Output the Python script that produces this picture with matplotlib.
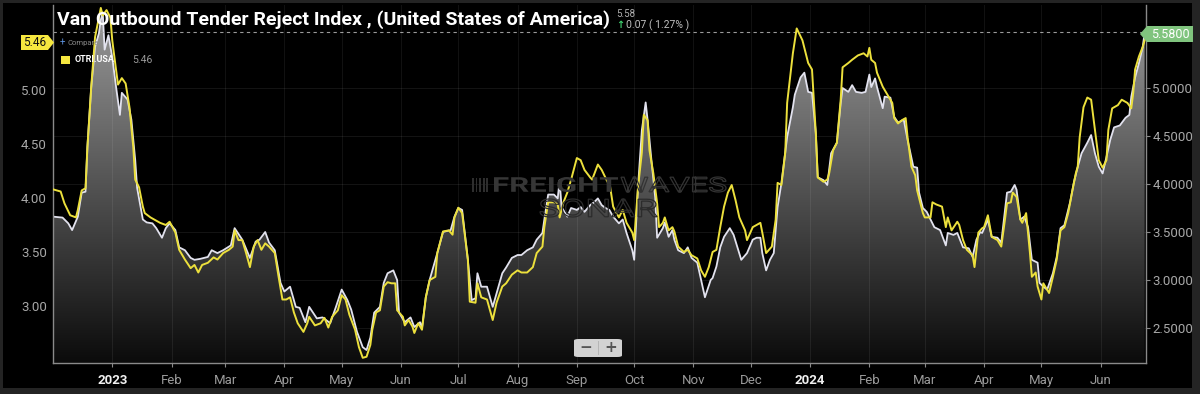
import numpy as np
import pandas as pd
import matplotlib
matplotlib.use('Agg')
import matplotlib.pyplot as plt
import matplotlib.dates as mdates
from matplotlib.patches import Polygon, FancyBboxPatch, Rectangle, PathPatch
from matplotlib.colors import LinearSegmentedColormap
from matplotlib.textpath import TextPath
from matplotlib.font_manager import FontProperties
from matplotlib.transforms import Affine2D, IdentityTransform

plt.rcParams['font.family'] = ['Roboto', 'DejaVu Sans']

# ---------------- data ----------------
start_date = '2022-12-01'
title = 'Van Outbound Tender Reject Index , (United States of America)'
series_label = 'OTRI.USA'
last_votri = 5.58
change_abs = 0.07
change_pct = 1.27
last_otri = 5.46

otri_days = [0, 4, 6, 9, 12, 13, 15, 17, 18, 20, 22, 24, 25, 26, 28, 30, 31, 32, 34, 36, 38, 40, 42, 43, 45, 47, 48,
             51, 53, 56, 59, 61, 64, 66, 69, 72, 74, 76, 78, 81, 84, 86, 89, 92, 94, 95, 97, 99, 101, 103, 105, 107,
             109, 111, 113, 116, 118, 120, 122, 124, 126, 128, 131, 133, 134, 137, 140, 142, 144, 146, 149, 151, 153,
             155, 158, 160, 162, 164, 166, 167, 169, 171, 173, 175, 177, 179, 180, 183, 184, 186, 188, 189, 191, 193,
             195, 197, 200, 201, 204, 207, 209, 210, 212, 214, 217, 218, 221, 222, 224, 227, 230, 232, 235, 237, 240,
             243, 245, 248, 251, 253, 256, 257, 259, 262, 264, 265, 267, 269, 271, 274, 276, 278, 281, 282, 285, 287,
             290, 291, 293, 296, 298, 300, 303, 304, 306, 308, 309, 311, 312, 314, 316, 317, 319, 320, 322, 324, 325,
             327, 330, 332, 334, 337, 339, 341, 343, 345, 347, 349, 351, 353, 355, 357, 359, 362, 363, 366, 368, 370,
             371, 373, 376, 378, 379, 381, 383, 384, 387, 389, 392, 395, 397, 399, 400, 403, 405, 406, 408, 410, 412,
             413, 416, 418, 421, 424, 426, 427, 428, 430, 431, 434, 435, 437, 439, 440, 442, 444, 446, 447, 449, 451,
             452, 455, 456, 459, 460, 462, 465, 467, 468, 470, 473, 474, 476, 478, 481, 482, 484, 486, 487, 489, 491,
             494, 496, 498, 499, 501, 502, 504, 506, 507, 509, 511, 512, 514, 515, 517, 518, 520, 521, 523, 525, 527,
             529, 531, 533, 535, 536, 537, 539, 541, 543, 545, 547, 549, 551, 552, 554, 557, 559, 562, 564, 565, 566,
             568, 570, 571]
otri_values = [4.08, 4.06, 3.95, 3.84, 3.82, 3.89, 4.07, 4.09, 4.47, 5.03, 5.49, 5.67, 5.76, 5.69, 5.74, 5.67, 5.46,
               5.32, 5.05, 5.11, 5.06, 4.84, 4.47, 4.17, 4.10, 3.92, 3.86, 3.82, 3.80, 3.77, 3.75, 3.78, 3.68, 3.52,
               3.43, 3.35, 3.38, 3.31, 3.38, 3.40, 3.45, 3.43, 3.49, 3.52, 3.55, 3.70, 3.61, 3.61, 3.49, 3.36, 3.55,
               3.61, 3.52, 3.58, 3.55, 3.49, 3.27, 3.06, 3.06, 3.08, 2.94, 2.84, 2.76, 2.84, 2.90, 2.82, 2.84, 2.89,
               2.80, 2.90, 2.96, 3.10, 3.06, 2.92, 2.78, 2.62, 2.52, 2.53, 2.64, 2.78, 2.94, 2.96, 3.18, 3.22, 3.21,
               3.21, 2.96, 2.90, 2.82, 2.87, 2.81, 2.75, 2.84, 2.78, 3.08, 3.24, 3.27, 3.49, 3.69, 3.70, 3.66, 3.82,
               3.91, 3.86, 3.43, 3.04, 3.03, 3.21, 3.08, 3.06, 2.87, 3.03, 3.18, 3.21, 3.29, 3.33, 3.31, 3.31, 3.36,
               3.49, 3.55, 3.73, 3.96, 3.96, 3.94, 3.82, 3.96, 4.05, 4.17, 4.37, 4.35, 4.26, 4.19, 4.17, 4.31, 4.26,
               4.15, 4.15, 3.92, 3.82, 3.89, 3.77, 3.68, 3.61, 4.10, 4.42, 4.77, 4.72, 4.44, 4.23, 3.95, 3.73, 3.77,
               3.82, 3.70, 3.73, 3.69, 3.55, 3.50, 3.52, 3.47, 3.44, 3.33, 3.27, 3.36, 3.50, 3.52, 3.73, 3.92, 4.05,
               4.12, 3.98, 3.82, 3.70, 3.61, 3.73, 3.75, 3.77, 3.68, 3.49, 3.55, 3.80, 4.14, 4.12, 4.42, 4.88, 5.34,
               5.57, 5.46, 5.25, 5.19, 4.60, 4.19, 4.15, 4.17, 4.23, 4.44, 4.51, 4.91, 5.21, 5.25, 5.28, 5.32, 5.34,
               5.31, 5.39, 5.28, 5.25, 5.16, 5.03, 5.00, 4.94, 4.88, 4.74, 4.69, 4.72, 4.74, 4.56, 4.29, 4.21, 4.07,
               3.86, 3.82, 3.82, 3.96, 3.94, 3.92, 3.73, 3.82, 3.70, 3.78, 3.75, 3.61, 3.52, 3.47, 3.36, 3.68, 3.72,
               3.73, 3.84, 3.64, 3.61, 3.55, 3.81, 3.95, 3.96, 4.05, 4.01, 3.80, 3.77, 3.86, 3.49, 3.27, 3.31, 3.18,
               3.06, 3.21, 3.15, 3.12, 3.27, 3.43, 3.70, 3.73, 3.86, 4.05, 4.23, 4.29, 4.56, 4.84, 4.93, 4.91, 4.63,
               4.35, 4.28, 4.35, 4.63, 4.83, 4.86, 4.91, 4.88, 4.83, 4.97, 5.19, 5.31, 5.40, 5.46]

votri_days = [0, 5, 8, 10, 13, 15, 17, 18, 20, 22, 24, 25, 26, 27, 29, 31, 33, 35, 36, 39, 41, 43, 44, 47, 49, 52,
              54, 57, 59, 61, 64, 66, 69, 72, 74, 77, 81, 83, 86, 89, 93, 95, 99, 103, 106, 108, 111, 113, 116, 119,
              121, 124, 127, 129, 132, 134, 138, 141, 145, 148, 151, 154, 156, 159, 162, 164, 166, 168, 171, 173, 175,
              178, 180, 181, 184, 187, 189, 192, 193, 195, 197, 201, 204, 208, 210, 212, 214, 217, 219, 221, 222, 224,
              227, 230, 232, 235, 237, 240, 243, 245, 248, 251, 253, 256, 257, 259, 262, 264, 265, 266, 269, 271, 274,
              276, 278, 281, 283, 285, 287, 289, 291, 293, 296, 298, 300, 303, 304, 306, 308, 310, 311, 313, 315, 316,
              319, 320, 322, 324, 325, 327, 330, 332, 334, 337, 339, 341, 344, 345, 347, 349, 351, 354, 356, 358, 360,
              363, 366, 368, 370, 371, 373, 375, 377, 379, 381, 384, 387, 388, 391, 393, 395, 397, 399, 400, 403, 405,
              407, 410, 412, 413, 416, 418, 420, 423, 425, 427, 428, 430, 431, 434, 435, 438, 440, 442, 445, 447, 450,
              452, 453, 455, 457, 459, 461, 464, 467, 468, 471, 473, 476, 479, 481, 483, 485, 486, 489, 491, 494, 496,
              499, 501, 503, 504, 506, 508, 510, 512, 515, 516, 518, 520, 523, 525, 527, 529, 532, 534, 536, 538, 541,
              543, 545, 547, 549, 551, 553, 555, 558, 561, 563, 564, 566, 568, 570, 571]
votri_values = [3.66, 3.65, 3.59, 3.52, 3.66, 3.91, 3.92, 4.39, 5.01, 5.43, 5.57, 5.71, 5.79, 5.40, 5.55, 5.32, 5.01,
                4.72, 4.95, 4.88, 4.67, 4.25, 3.96, 3.63, 3.60, 3.59, 3.54, 3.44, 3.54, 3.59, 3.52, 3.34, 3.31, 3.23,
                3.21, 3.22, 3.24, 3.31, 3.28, 3.31, 3.36, 3.54, 3.42, 3.23, 3.40, 3.42, 3.50, 3.39, 3.31, 2.97, 2.88,
                2.93, 2.72, 2.71, 2.56, 2.72, 2.60, 2.61, 2.55, 2.72, 2.90, 2.79, 2.69, 2.46, 2.30, 2.27, 2.40, 2.66,
                2.72, 2.97, 3.07, 3.10, 3.00, 2.66, 2.56, 2.61, 2.51, 2.56, 2.50, 2.82, 3.00, 3.28, 3.50, 3.52, 3.66,
                3.75, 3.73, 3.21, 2.79, 2.81, 3.07, 2.93, 2.93, 2.72, 2.86, 3.07, 3.13, 3.23, 3.26, 3.26, 3.31, 3.34,
                3.42, 3.49, 3.63, 3.89, 3.89, 3.85, 4.04, 3.76, 3.66, 3.75, 3.73, 3.76, 3.71, 3.78, 3.81, 3.85, 3.78,
                3.75, 3.73, 3.66, 3.59, 3.63, 3.49, 3.31, 3.21, 3.97, 4.56, 4.85, 4.67, 4.25, 3.86, 3.44, 3.54, 3.60,
                3.45, 3.52, 3.42, 3.31, 3.28, 3.34, 3.23, 3.18, 3.00, 2.82, 3.00, 3.02, 3.14, 3.34, 3.45, 3.54, 3.47,
                3.34, 3.21, 3.28, 3.42, 3.44, 3.44, 3.28, 3.10, 3.21, 3.28, 3.76, 4.01, 4.49, 4.80, 4.93, 5.11, 5.16,
                4.96, 4.95, 4.53, 4.07, 4.04, 3.99, 4.32, 4.43, 4.84, 5.00, 4.96, 5.03, 4.96, 4.95, 4.96, 5.14, 5.01,
                5.10, 5.01, 4.79, 4.91, 4.90, 4.70, 4.64, 4.67, 4.46, 4.18, 4.17, 3.91, 3.75, 3.71, 3.63, 3.55, 3.52,
                3.36, 3.49, 3.47, 3.49, 3.34, 3.33, 3.24, 3.42, 3.50, 3.49, 3.63, 3.45, 3.44, 3.39, 3.91, 3.92, 3.99,
                3.94, 3.63, 3.66, 3.55, 3.21, 3.18, 2.97, 2.93, 2.90, 3.07, 3.24, 3.54, 3.57, 3.81, 4.02, 4.18, 4.32,
                4.43, 4.51, 4.32, 4.18, 4.11, 4.28, 4.46, 4.59, 4.61, 4.69, 4.72, 4.91, 5.11, 5.26, 5.43, 5.58]

month_ticks = pd.date_range('2023-01-01', '2024-06-01', freq='MS')
left_ticks = [3.0, 3.5, 4.0, 4.5, 5.0]
right_ticks = [2.5, 3.0, 3.5, 4.0, 4.5, 5.0]

# ---------------- layout helpers ----------------
W, H = 1200, 394
fig = plt.figure(figsize=(12, 3.94), dpi=100, facecolor='#242424')


def fx(px):
    return px / W


def fy(py):
    return 1 - py / H


fig.add_artist(Rectangle((fx(3), fy(388)), fx(1192) - fx(3), fy(3) - fy(388), transform=fig.transFigure,
                         facecolor='black', edgecolor='none', zorder=-5))

ax = fig.add_axes([fx(53), fy(363), fx(1146) - fx(53), fy(5) - fy(363)])
ax2 = ax.twinx()
ax.set_zorder(ax2.get_zorder() + 1)
ax.patch.set_visible(False)
ax2.patch.set_facecolor('black')

t0 = pd.Timestamp(start_date)
odates = mdates.date2num(t0 + pd.to_timedelta(otri_days, unit='D'))
vdates = mdates.date2num(t0 + pd.to_timedelta(votri_days, unit='D'))
xmin = mdates.date2num(t0)
xmax = mdates.date2num(t0 + pd.Timedelta(days=571.7))

l_lo, l_hi = 2.472, 5.787
r_lo, r_hi = 2.135, 5.865

# gradient area under the main series
poly = ax2.fill_between(vdates, votri_values, r_lo, facecolor='none', edgecolor='none')
grad = np.linspace(0, 1, 256).reshape(-1, 1)
cmap = LinearSegmentedColormap.from_list('g', ['#0b0b0b', '#9c9c9c'])
im = ax2.imshow(grad, extent=[xmin, xmax, r_lo, r_hi], origin='lower', aspect='auto', cmap=cmap, zorder=1)
im.set_clip_path(poly.get_paths()[0], transform=ax2.transData)
ax2.plot(vdates, votri_values, color='#e2e2ee', lw=1.3, zorder=3)
ax2.axhline(last_votri, color='#9a9a9a', lw=0.8, ls=(0, (3, 3)), zorder=4)

ax.plot(odates, otri_values, color='#ece03c', lw=1.4, zorder=3)

ax.set_xlim(xmin, xmax)
ax.set_ylim(l_lo, l_hi)
ax2.set_ylim(r_lo, r_hi)

# axes styling
for a in (ax, ax2):
    for s in a.spines.values():
        s.set_visible(False)
ax.spines['left'].set_visible(True)
ax.spines['bottom'].set_visible(True)
ax2.spines['right'].set_visible(True)
for s in (ax.spines['left'], ax.spines['bottom'], ax2.spines['right']):
    s.set_color('#8a8a8a')
    s.set_linewidth(1.0)

ax.set_yticks(left_ticks)
ax.set_yticklabels([f'{v:.2f}' for v in left_ticks])
ax.tick_params(axis='y', length=0, pad=4.5, labelsize=9.5, labelcolor='#a8a8a8')

ax2.set_yticks(right_ticks)
ax2.set_yticklabels([f'{v:.4f}' for v in right_ticks])
ax2.tick_params(axis='y', length=3, width=0.8, color='#8a8a8a', pad=1.5, labelsize=9.5, labelcolor='#a8a8a8')

ax.set_xticks(mdates.date2num(month_ticks))
labels = [str(d.year) if d.month == 1 else d.strftime('%b') for d in month_ticks]
ax.set_xticklabels(labels)
ax.tick_params(axis='x', length=3, width=0.8, color='#8a8a8a', pad=5, labelsize=9.5, labelcolor='#9a9a9a')
for lab, d in zip(ax.get_xticklabels(), month_ticks):
    if d.month == 1:
        lab.set_color('#f0f0f0')
        lab.set_fontweight('bold')

ax.grid(axis='x', color='white', alpha=0.07, lw=0.8)
ax2.grid(axis='y', color='white', alpha=0.08, lw=0.8)
ax2.set_axisbelow(True)

# ---------------- texts ----------------
t = fig.text(fx(57), fy(20), title, color='white', fontsize=14, fontweight='bold', va='center', ha='left')
fig.canvas.draw()
r = fig.canvas.get_renderer()
w = t.get_window_extent(r).width
t.set_fontsize(14 * 554 / w)
fig.canvas.draw()
tx = t.get_window_extent(r).x1
fig.text((tx + 6) / W, fy(14), f'{last_votri:.2f}', color='#b0b0b0', fontsize=7, va='center', ha='left')
fig.text((tx + 6) / W, fy(25), '↑', color='#3ecf6e', fontsize=7, va='center', ha='left',
         family=['DejaVu Sans'], fontweight='bold')
fig.text((tx + 16) / W, fy(25), f'{change_abs:.2f} ( {change_pct:.2f}% )', color='#c0c0c0', fontsize=7.5,
         va='center', ha='left')

# left yellow value tag
fig.add_artist(Polygon([(fx(21), fy(35)), (fx(48), fy(35)), (fx(54), fy(42.5)), (fx(48), fy(50)), (fx(21), fy(50))],
                       closed=True, transform=fig.transFigure, facecolor='#f6e73f', edgecolor='none', zorder=10))
fig.text(fx(35), fy(42.5), f'{last_otri:.2f}', color='#111111', fontsize=8.5, va='center', ha='center', zorder=11)

# right green value tag
fig.add_artist(Polygon([(fx(1140), fy(34)), (fx(1147), fy(26)), (fx(1193), fy(26)), (fx(1193), fy(42)),
                        (fx(1147), fy(42))], closed=True, transform=fig.transFigure, facecolor='#80c47e',
                       edgecolor='none', zorder=10))
fig.text(fx(1170), fy(34), f'{last_votri:.4f}', color='#ffffff', fontsize=9, va='center', ha='center', zorder=11)

# compare + legend
fig.text(fx(60), fy(43), '+', color='#5b8fd9', fontsize=7, va='center', ha='left', zorder=11)
fig.text(fx(67), fy(43), 'Compare', color='#8a8a8a', fontsize=5.5, va='center', ha='left', zorder=11)
fig.add_artist(Rectangle((fx(61), fy(64)), fx(9), 8 / H, transform=fig.transFigure, facecolor='#f6e73f',
                         edgecolor='none', zorder=11))
fig.text(fx(75), fy(60), series_label, color='white', fontsize=6.5, fontweight='bold', va='center', ha='left',
         zorder=11)
fig.text(fx(132), fy(60), f'{last_otri:.2f}', color='#9a9a9a', fontsize=7.5, va='center', ha='left', zorder=11)


# watermark (stretched text paths, in output pixels)
def stretched_text(s, x0, x1, ytop, ybot, weight, fc, ec, lw=0.0):
    fp = FontProperties(family='Roboto', weight=weight)
    tp = TextPath((0, 0), s, size=100, prop=fp)
    bb = tp.get_extents()
    sx = (x1 - x0) / bb.width
    sy = (ybot - ytop) / bb.height
    tr = Affine2D().translate(-bb.x0, -bb.y0).scale(sx, sy).translate(x0, H - ybot)
    patch = PathPatch(tr.transform_path(tp), transform=IdentityTransform(), facecolor=fc, edgecolor=ec,
                      lw=lw, zorder=6)
    fig.add_artist(patch)


for i in range(5):
    fig.add_artist(Rectangle((fx(472 + i * 3.6), fy(192)), fx(1.8), 14 / H, transform=fig.transFigure,
                             facecolor='#2e2e2e', edgecolor='none', zorder=6))
stretched_text('FREIGHT', 494, 618, 177, 192, 'bold', '#363636', 'none')
stretched_text('WAVES', 621, 726, 177, 192, 'normal', 'none', '#333333', 0.9)
stretched_text('SONAR', 540, 657, 199, 217, 'normal', 'none', '#2c2c2c', 0.9)

# zoom buttons
fig.add_artist(FancyBboxPatch((fx(574), fy(357)), fx(48), 18 / H, boxstyle='round,pad=0,rounding_size=0.004',
                              transform=fig.transFigure, facecolor='#d2d2d2', edgecolor='none', zorder=12))
fig.add_artist(Rectangle((fx(598), fy(355)), fx(0.8), 14 / H, transform=fig.transFigure, facecolor='#b5b5b5',
                         edgecolor='none', zorder=13))
fig.text(fx(586), fy(348), '−', color='#555555', fontsize=11, fontweight='bold', va='center', ha='center',
         zorder=13, family=['DejaVu Sans'])
fig.text(fx(611), fy(348), '+', color='#555555', fontsize=11, fontweight='bold', va='center', ha='center',
         zorder=13, family=['DejaVu Sans'])

fig.savefig('out.png', dpi=100, facecolor=fig.get_facecolor())
